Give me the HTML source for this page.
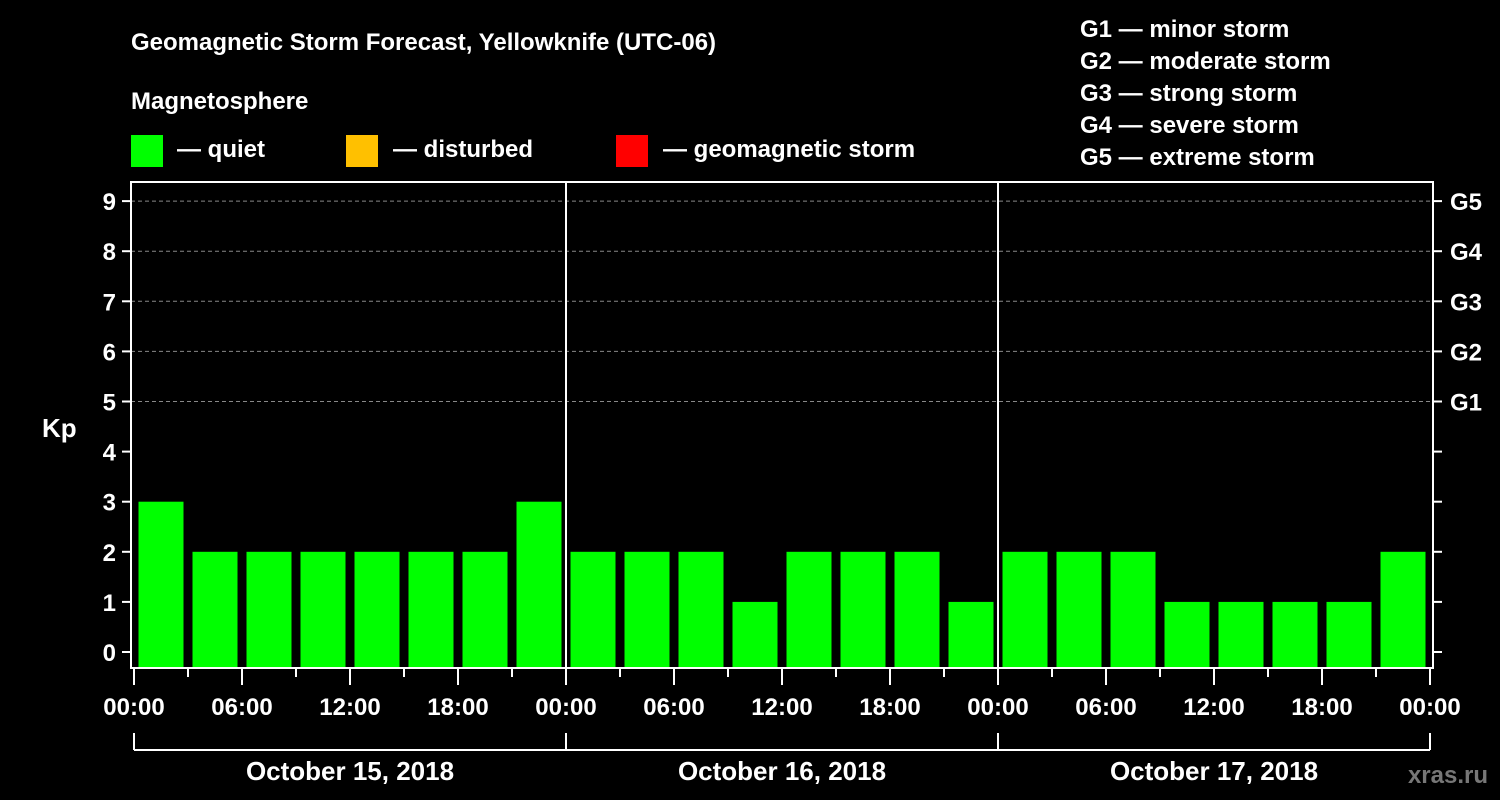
<!DOCTYPE html>
<html><head><meta charset="utf-8"><style>
body{margin:0;background:#000;width:1500px;height:800px;overflow:hidden}
svg{display:block;font-family:"Liberation Sans",sans-serif;font-weight:bold;fill:#fff}
</style></head><body>
<svg id="c" width="1500" height="800">
<text x="131" y="50" font-size="24">Geomagnetic Storm Forecast, Yellowknife (UTC-06)</text>
<text x="131" y="109" font-size="24">Magnetosphere</text>
<rect x="131" y="135" width="32" height="32" fill="#00ff00"/>
<text x="177" y="157" font-size="24">— quiet</text>
<rect x="346" y="135" width="32" height="32" fill="#ffc000"/>
<text x="393" y="157" font-size="24">— disturbed</text>
<rect x="616" y="135" width="32" height="32" fill="#ff0000"/>
<text x="663" y="157" font-size="24">— geomagnetic storm</text>
<g font-size="24">
<text x="1080" y="37">G1 — minor storm</text>
<text x="1080" y="69">G2 — moderate storm</text>
<text x="1080" y="101">G3 — strong storm</text>
<text x="1080" y="133">G4 — severe storm</text>
<text x="1080" y="165">G5 — extreme storm</text>
</g>
<text x="42" y="437" font-size="26">Kp</text>
<text x="1488" y="783" font-size="24" fill="#888" text-anchor="end" style="fill:#777">xras.ru</text>
<g id="plot"></g>
</svg>
<script>
const days=["October 15, 2018","October 16, 2018","October 17, 2018"];
const hourLabels=["00:00","06:00","12:00","18:00"];
const kpValues=[3,2,2,2,2,2,2,3, 2,2,2,1,2,2,2,1, 2,2,2,1,1,1,1,2];
const yTicks=[0,1,2,3,4,5,6,7,8,9];
const gLabels={5:"G1",6:"G2",7:"G3",8:"G4",9:"G5"};
const X0=134,X1=1430,T0=0,T1=72;
const xs=t=>X0+(t-T0)/(T1-T0)*(X1-X0);
const ys=v=>652-v*50.1;
const NS="http://www.w3.org/2000/svg";
const g=document.getElementById('plot');
function mk(tag,a,txt){const e=document.createElementNS(NS,tag);for(const k in a)e.setAttribute(k,a[k]);if(txt!==undefined)e.textContent=txt;g.appendChild(e);return e;}
// grid
yTicks.forEach(v=>{if(v>=5){const l=mk('line',{x1:131,x2:1433,y1:ys(v),y2:ys(v),stroke:'#888','stroke-dasharray':'4,3','stroke-width':1});

}});
// bars
const slot=(X1-X0)/kpValues.length;
kpValues.forEach((v,i)=>{const x=xs(i*3);const r=mk('rect',{x:x+4.5,y:ys(v),width:slot-9,height:668-ys(v),fill:v>=5?'#ff0000':v>=4?'#ffc000':'#00ff00'});

});
// frame
const f=mk('rect',{x:131,y:182,width:1302,height:486,fill:'none',stroke:'#fff','stroke-width':2});


[1,2].forEach(d=>{const l=mk('line',{x1:xs(d*24),x2:xs(d*24),y1:182,y2:668,stroke:'#fff','stroke-width':2});

});
// y ticks
yTicks.forEach(v=>{mk('line',{x1:122,x2:131,y1:ys(v),y2:ys(v),stroke:'#fff','stroke-width':2});
mk('line',{x1:1433,x2:1442,y1:ys(v),y2:ys(v),stroke:'#fff','stroke-width':2});
const t=mk('text',{x:116,y:ys(v)+9,'font-size':24,'text-anchor':'end'},String(v));


if(gLabels[v]){const r=mk('text',{x:1450,y:ys(v)+9,'font-size':24},gLabels[v]);

}});
// x ticks
for(let h=0;h<=72;h+=3){const x=xs(h);mk('line',{x1:x,x2:x,y1:668,y2:h%6===0?685:677,stroke:'#fff','stroke-width':2});
if(h%6===0){const t=mk('text',{x:x,y:715,'font-size':24,'text-anchor':'middle'},hourLabels[(h/6)%4]);

}}
// date bracket
mk('line',{x1:xs(0),x2:xs(72),y1:750,y2:750,stroke:'#fff','stroke-width':2});
[0,24,48,72].forEach(h=>mk('line',{x1:xs(h),x2:xs(h),y1:733,y2:750,stroke:'#fff','stroke-width':2}));
days.forEach((d,i)=>{const t=mk('text',{x:xs(i*24+12),y:780,'font-size':26,'text-anchor':'middle'},d);

});
</script>
</body></html>
